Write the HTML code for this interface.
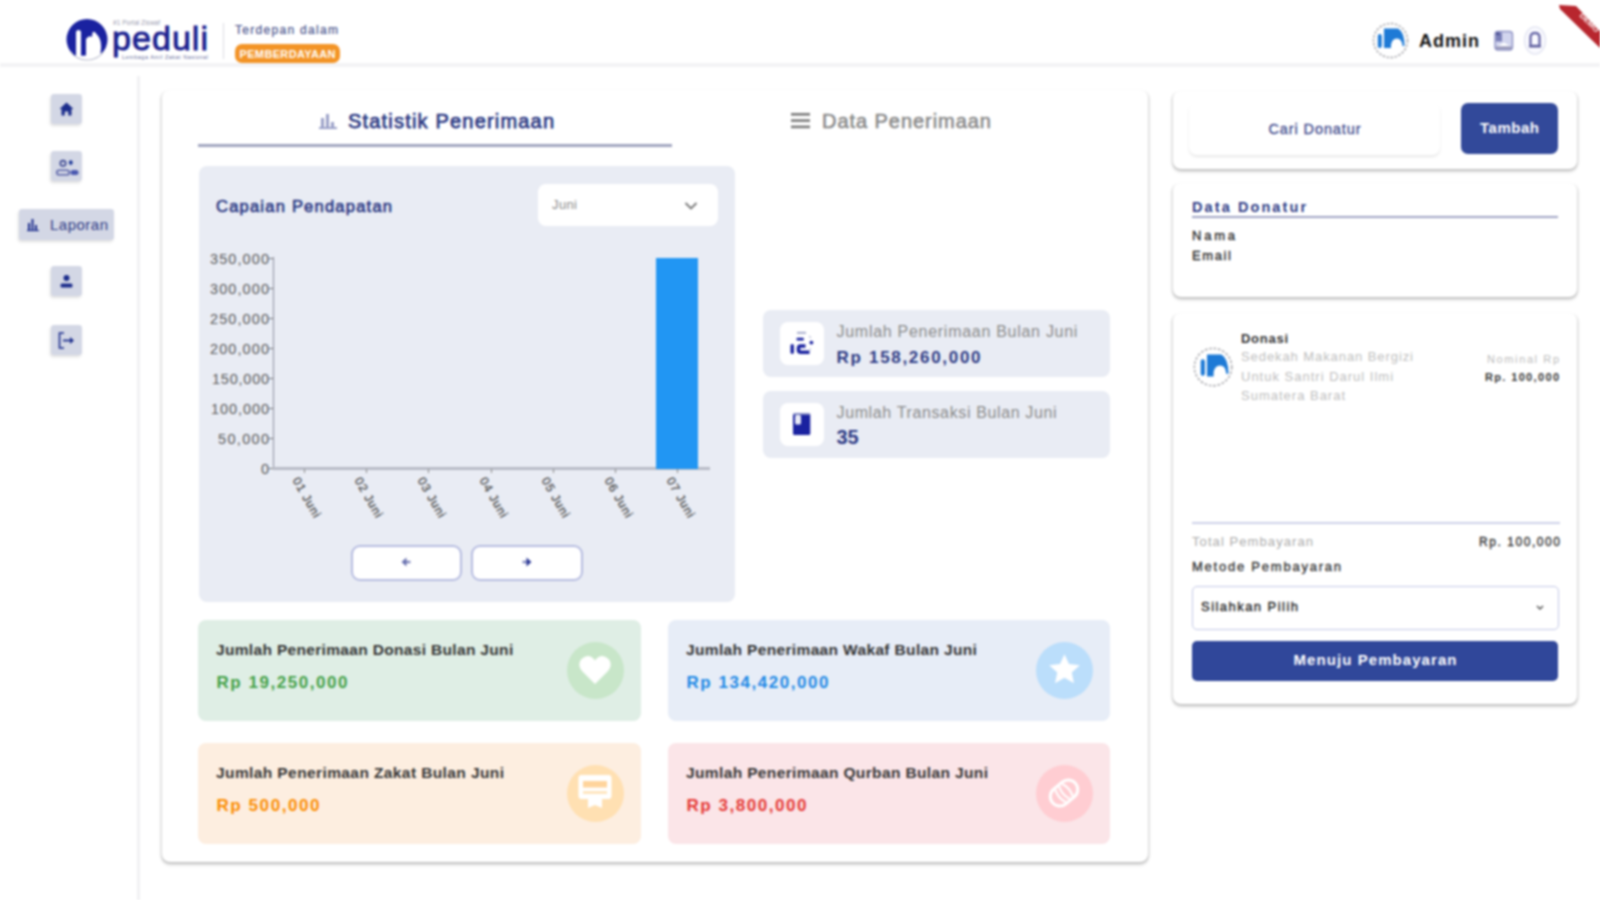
<!DOCTYPE html>
<html><head><meta charset="utf-8">
<style>
*{margin:0;padding:0;box-sizing:border-box}
html,body{width:1600px;height:900px;overflow:hidden;background:#fff;font-family:"Liberation Sans",sans-serif}
.a{position:absolute}
.t{position:absolute;white-space:nowrap;line-height:1.1172}
.sbtn{position:absolute;width:31px;height:30px;background:#d3d7e5;border-radius:3px;box-shadow:-1px 2px 3px rgba(0,0,0,.13)}
.card{position:absolute;background:#fff;border-radius:8px;box-shadow:0 2.5px 3px rgba(0,0,0,.16),-1.5px 1px 2px rgba(0,0,0,.08),1.5px 1px 2px rgba(0,0,0,.08)}
svg{position:absolute;overflow:visible}
</style></head><body>
<div id="pg" style="position:absolute;left:0;top:0;width:1600px;height:900px;background:#fff;filter:blur(1.0px)">
<div class="a" style="left:0;top:0;width:1600px;height:64px;background:#fff"></div>
<div class="a" style="left:0;top:63px;width:1600px;height:4px;background:#f3f3f5"></div>
<div class="a" style="left:137px;top:76px;width:3px;height:824px;background:#f1f1f3"></div>
<svg style="left:62px;top:15px" width="50" height="50" viewBox="0 0 50 50">
<defs><clipPath id="lc"><circle cx="25" cy="24.5" r="20.5"/></clipPath></defs>
<g clip-path="url(#lc)">
<rect x="0" y="0" width="50" height="50" fill="#1a22a0"/>
<path d="M0 39 Q25 44 50 35 L50 50 L0 50 Z" fill="#fff"/>
<rect x="14" y="15" width="5" height="40" rx="2.5" fill="#fff"/>
<path d="M24 50 L24 24 Q27 20 30 22 L30.5 17.5 Q32.5 15.5 34 18.5 Q40 24 39 34 L37 50 Z" fill="#fff"/>
</g>
<path d="M8 36 Q14 45 25 45 Q36 45 42 36" fill="none" stroke="#b9bccc" stroke-width="1.2"/>
</svg>
<div class="t" style="left:113.0px;top:19.1px;font-size:6.5px;color:#9a9ab0;letter-spacing:0.03px;">#1 Portal Ziswaf</div>
<div class="t" style="left:112.0px;top:19.2px;font-size:34px;color:#1b2290;letter-spacing:1.05px;-webkit-text-stroke:0.9px #1b2290;">peduli</div>
<div class="t" style="left:122.0px;top:53.5px;font-size:5.5px;color:#6a70a0;letter-spacing:0.50px;">Lembaga Amil Zakat Nasional</div>
<div class="a" style="left:222.5px;top:23px;width:1.5px;height:36px;background:#dcdce2"></div>
<div class="t" style="left:235.0px;top:24.1px;font-size:12px;color:#46508a;letter-spacing:1.30px;-webkit-text-stroke:0.2px #46508a;">Terdepan dalam</div>
<div class="a" style="left:235px;top:44px;width:105px;height:19px;background:#f39426;border-radius:7px"></div>
<div class="t" style="left:239.5px;top:48.0px;font-size:11px;color:#fff;letter-spacing:0.35px;font-weight:bold;">PEMBERDAYAAN</div>
<svg style="left:1365px;top:15px" width="50" height="50" viewBox="0 0 50 50">
<circle cx="25.5" cy="25.5" r="17" fill="#fff" stroke="#b4b4b8" stroke-width="1.8" stroke-dasharray="2.5 1.5"/>
<rect x="12.8" y="19" width="4" height="14" rx="2" fill="#1e7ad6"/>
<path d="M19 13.5 L33 13.5 Q39.5 17 39.5 31 L37.5 31 Q37 23.5 31.8 23.5 Q27 23.5 26 30 L26 33 L19 33 Z" fill="#1e7ad6"/>
</svg>
<div class="t" style="left:1419.0px;top:30.7px;font-size:18px;color:#111;letter-spacing:1.00px;font-weight:bold;">Admin</div>
<svg style="left:1493px;top:29px" width="22" height="23" viewBox="0 0 22 23">
<rect x="2" y="2.5" width="17.5" height="18.5" rx="3" fill="#d2d5ee" stroke="#8e92c4" stroke-width="1.4"/>
<rect x="3" y="3.5" width="6" height="9" fill="#7a7fb8"/>
<rect x="3" y="3.5" width="3.5" height="2.5" fill="#4a4e90"/>
<path d="M5 17 L11 13.5 L17 17 Z" fill="#fff"/>
<rect x="3" y="17.5" width="15.5" height="2.5" fill="#9a9ab8"/>
</svg>
<svg style="left:1523px;top:25px" width="24" height="31" viewBox="0 0 24 31">
<ellipse cx="12" cy="15.5" rx="10.5" ry="13.5" fill="#fafaff" stroke="#e4e6f2" stroke-width="1.5"/>
<path d="M7.5 21 L7.5 12.5 Q7.5 8 12 8 Q16.5 8 16.5 12.5 L16.5 21 Z" fill="none" stroke="#6a6aa8" stroke-width="2.4"/>
<path d="M6 21.5 L18 21.5" stroke="#5a5a98" stroke-width="1.6"/>
</svg>
<svg style="left:1550px;top:0px" width="50" height="50" viewBox="0 0 50 50">
<path d="M9 5 L26 6 L50 31 L50 48 L10 9 Z" fill="#b8262e"/>
<text x="0" y="0" transform="translate(37.5,24.5) rotate(45)" font-size="8" font-weight="bold" fill="#fff" text-anchor="middle" font-family="Liberation Sans">DEMO</text>
</svg>
<div class="sbtn" style="left:51px;top:94px"></div>
<div class="sbtn" style="left:51px;top:151px"></div>
<div class="sbtn" style="left:51px;top:266px"></div>
<div class="sbtn" style="left:51px;top:325px"></div>
<div class="sbtn" style="left:19px;top:209px;width:95px;height:31px"></div>
<svg style="left:51px;top:94px" width="31" height="31" viewBox="0 0 31 31">
<path d="M15.5 8.5 L22.5 15 L20.5 15 L20.5 21.5 L17.3 21.5 L17.3 17.5 L13.7 17.5 L13.7 21.5 L10.5 21.5 L10.5 15 L8.5 15 Z" fill="#1c2d8c"/>
</svg>
<svg style="left:51px;top:151px" width="31" height="31" viewBox="0 0 31 31">
<circle cx="12" cy="12.3" r="2.7" fill="none" stroke="#3a4590" stroke-width="1.6"/>
<ellipse cx="19.8" cy="11.6" rx="1.9" ry="2.4" fill="#1f3a9a"/>
<rect x="5.8" y="19.2" width="12.5" height="4.6" rx="2.3" fill="none" stroke="#5a62a8" stroke-width="1.6"/>
<rect x="19.5" y="19" width="8" height="5" rx="2.5" fill="#4a58b0"/>
</svg>
<svg style="left:19px;top:209px" width="31" height="31" viewBox="0 0 31 31">
<rect x="9" y="14" width="2" height="7" fill="#1c2d8c"/>
<rect x="12.5" y="10" width="2" height="11" fill="#1c2d8c"/>
<rect x="16" y="16" width="2" height="5" fill="#1c2d8c"/>
<path d="M8 21.5 L20 21.5" stroke="#1c2d8c" stroke-width="1.2"/>
</svg>
<div class="t" style="left:50.0px;top:217.4px;font-size:15px;color:#2d3a84;letter-spacing:0.49px;">Laporan</div>
<svg style="left:51px;top:266px" width="31" height="31" viewBox="0 0 31 31">
<circle cx="15.5" cy="12" r="3" fill="#1c2d8c"/>
<rect x="9.5" y="17.5" width="12" height="4" rx="1.5" fill="#1c2d8c"/>
</svg>
<svg style="left:51px;top:325px" width="31" height="31" viewBox="0 0 31 31">
<path d="M13 8 L8.5 8 L8.5 23 L13 23" fill="none" stroke="#1c2d8c" stroke-width="1.6"/>
<path d="M12 15.5 L20 15.5" stroke="#1c2d8c" stroke-width="1.8"/>
<path d="M19 12 L23 15.5 L19 19 Z" fill="#1c2d8c"/>
</svg>
<div class="card" style="left:162px;top:90px;width:986px;height:772px"></div>
<svg style="left:319px;top:113px" width="18" height="16" viewBox="0 0 18 16">
<rect x="2" y="5" width="3" height="10" fill="#9aa0c8"/>
<rect x="7" y="1" width="3" height="14" fill="#9aa0c8"/>
<rect x="12" y="9" width="3" height="6" fill="#9aa0c8"/>
<rect x="0" y="14" width="18" height="2" fill="#9aa0c8"/>
</svg>
<div class="t" style="left:348.0px;top:109.9px;font-size:20px;color:#2d3a84;letter-spacing:1.19px;-webkit-text-stroke:0.75px #2d3a84;">Statistik Penerimaan</div>
<div class="a" style="left:198px;top:144px;width:474px;height:3px;background:#a2a6c0"></div>
<svg style="left:791px;top:112px" width="20" height="18" viewBox="0 0 20 18">
<rect x="0" y="1" width="19" height="2.6" fill="#7a7a7a"/>
<rect x="0" y="7.3" width="19" height="2.6" fill="#7a7a7a"/>
<rect x="0" y="13.6" width="19" height="2.6" fill="#7a7a7a"/>
</svg>
<div class="t" style="left:822.0px;top:109.9px;font-size:20px;color:#8a8a8a;letter-spacing:0.95px;-webkit-text-stroke:0.6px #8a8a8a;">Data Penerimaan</div>
<div class="a" style="left:199px;top:166px;width:536px;height:436px;background:#e9ecf4;border-radius:8px"></div>
<div class="t" style="left:216.0px;top:197.1px;font-size:16.5px;color:#2d3a84;letter-spacing:1.23px;-webkit-text-stroke:0.65px #2d3a84;">Capaian Pendapatan</div>
<div class="a" style="left:538px;top:184px;width:180px;height:42px;background:#fff;border-radius:8px"></div>
<div class="t" style="left:552.0px;top:198.2px;font-size:13px;color:#8a8a8a;letter-spacing:0.38px;">Juni</div>
<svg style="left:684px;top:200px" width="14" height="11" viewBox="0 0 14 11">
<path d="M1.5 3 L7 8.5 L12.5 3" fill="none" stroke="#777" stroke-width="1.8"/>
</svg>
<div class="a" style="left:272.5px;top:257px;width:1.5px;height:212px;background:#8c90a0"></div>
<div class="a" style="left:273px;top:467px;width:437px;height:2.5px;background:#b8bbc6"></div>
<div class="t" style="left:210.0px;top:250.5px;font-size:14.5px;color:#5a5a5a;letter-spacing:1.10px;">350,000</div>
<div class="a" style="left:268.5px;top:257.8px;width:4px;height:1px;background:#777"></div>
<div class="t" style="left:210.0px;top:280.5px;font-size:14.5px;color:#5a5a5a;letter-spacing:1.10px;">300,000</div>
<div class="a" style="left:268.5px;top:287.8px;width:4px;height:1px;background:#777"></div>
<div class="t" style="left:210.0px;top:310.5px;font-size:14.5px;color:#5a5a5a;letter-spacing:1.10px;">250,000</div>
<div class="a" style="left:268.5px;top:317.9px;width:4px;height:1px;background:#777"></div>
<div class="t" style="left:210.0px;top:340.6px;font-size:14.5px;color:#5a5a5a;letter-spacing:1.10px;">200,000</div>
<div class="a" style="left:268.5px;top:347.9px;width:4px;height:1px;background:#777"></div>
<div class="t" style="left:212.0px;top:370.6px;font-size:14.5px;color:#5a5a5a;letter-spacing:0.77px;">150,000</div>
<div class="a" style="left:268.5px;top:377.9px;width:4px;height:1px;background:#777"></div>
<div class="t" style="left:211.0px;top:400.6px;font-size:14.5px;color:#5a5a5a;letter-spacing:0.93px;">100,000</div>
<div class="a" style="left:268.5px;top:408.0px;width:4px;height:1px;background:#777"></div>
<div class="t" style="left:218.0px;top:430.7px;font-size:14.5px;color:#5a5a5a;letter-spacing:1.33px;">50,000</div>
<div class="a" style="left:268.5px;top:438.0px;width:4px;height:1px;background:#777"></div>
<div class="t" style="left:260.9px;top:460.7px;font-size:14.5px;color:#5a5a5a;letter-spacing:0.00px;">0</div>
<div class="a" style="left:268.5px;top:468.0px;width:4px;height:1px;background:#777"></div>
<div class="a" style="left:656px;top:258px;width:42px;height:211px;background:#2196f3"></div>
<div class="a" style="left:303.6px;top:469px;width:1px;height:4px;background:#888"></div>
<div class="t" style="left:295.1px;top:472px;font-size:12px;color:#484848;letter-spacing:0.9px;-webkit-text-stroke:0.25px #484848;transform-origin:0 50%;transform:rotate(60deg)">01 Juni</div>
<div class="a" style="left:365.9px;top:469px;width:1px;height:4px;background:#888"></div>
<div class="t" style="left:357.4px;top:472px;font-size:12px;color:#484848;letter-spacing:0.9px;-webkit-text-stroke:0.25px #484848;transform-origin:0 50%;transform:rotate(60deg)">02 Juni</div>
<div class="a" style="left:428.2px;top:469px;width:1px;height:4px;background:#888"></div>
<div class="t" style="left:419.7px;top:472px;font-size:12px;color:#484848;letter-spacing:0.9px;-webkit-text-stroke:0.25px #484848;transform-origin:0 50%;transform:rotate(60deg)">03 Juni</div>
<div class="a" style="left:490.5px;top:469px;width:1px;height:4px;background:#888"></div>
<div class="t" style="left:482.0px;top:472px;font-size:12px;color:#484848;letter-spacing:0.9px;-webkit-text-stroke:0.25px #484848;transform-origin:0 50%;transform:rotate(60deg)">04 Juni</div>
<div class="a" style="left:552.8px;top:469px;width:1px;height:4px;background:#888"></div>
<div class="t" style="left:544.3px;top:472px;font-size:12px;color:#484848;letter-spacing:0.9px;-webkit-text-stroke:0.25px #484848;transform-origin:0 50%;transform:rotate(60deg)">05 Juni</div>
<div class="a" style="left:615.1px;top:469px;width:1px;height:4px;background:#888"></div>
<div class="t" style="left:606.6px;top:472px;font-size:12px;color:#484848;letter-spacing:0.9px;-webkit-text-stroke:0.25px #484848;transform-origin:0 50%;transform:rotate(60deg)">06 Juni</div>
<div class="a" style="left:677.4px;top:469px;width:1px;height:4px;background:#888"></div>
<div class="t" style="left:668.9px;top:472px;font-size:12px;color:#484848;letter-spacing:0.9px;-webkit-text-stroke:0.25px #484848;transform-origin:0 50%;transform:rotate(60deg)">07 Juni</div>
<div class="a" style="left:351px;top:545px;width:111px;height:36px;background:#fff;border:2px solid #b6bce0;border-radius:9px"></div>
<div class="a" style="left:471px;top:545px;width:112px;height:36px;background:#fff;border:2px solid #b6bce0;border-radius:9px"></div>
<svg style="left:399px;top:555px" width="14" height="14" viewBox="0 0 14 14"><path d="M11.5 7 L4 7" stroke="#8088bc" stroke-width="2.4"/><path d="M7.5 2.5 L2.5 7 L7.5 11.5 Z" fill="#6a72b0"/></svg>
<svg style="left:520px;top:555px" width="14" height="14" viewBox="0 0 14 14"><path d="M2.5 7 L10 7" stroke="#8088bc" stroke-width="2.4"/><path d="M6.5 2.5 L11.5 7 L6.5 11.5 Z" fill="#2e3a98"/></svg>
<div class="a" style="left:763px;top:310px;width:347px;height:67px;background:#e9ecf4;border-radius:8px"></div>
<div class="a" style="left:780px;top:322px;width:44px;height:43px;background:#fff;border-radius:8px"></div>
<div class="t" style="left:836.5px;top:323.3px;font-size:16px;color:#8a8a8a;letter-spacing:0.72px;">Jumlah Penerimaan Bulan Juni</div>
<div class="t" style="left:836.5px;top:347.6px;font-size:17px;color:#2d3a84;letter-spacing:1.70px;font-weight:bold;">Rp 158,260,000</div>
<div class="a" style="left:763px;top:391px;width:347px;height:67px;background:#e9ecf4;border-radius:8px"></div>
<div class="a" style="left:780px;top:403px;width:44px;height:43px;background:#fff;border-radius:8px"></div>
<div class="t" style="left:836.5px;top:404.3px;font-size:16px;color:#8a8a8a;letter-spacing:0.63px;">Jumlah Transaksi Bulan Juni</div>
<div class="t" style="left:836.5px;top:425.9px;font-size:20px;color:#2d3a84;letter-spacing:-0.24px;font-weight:bold;">35</div>
<svg style="left:780px;top:322px" width="44" height="43" viewBox="0 0 44 43">
<rect x="10.5" y="22" width="3.4" height="10" rx="1.7" fill="#1a22a0"/>
<path d="M25.5 24 L20.5 24 Q18.5 24 18.5 26.5 L18.5 28 Q18.5 30.3 21 30.3 L29.5 30.3" fill="none" stroke="#1a22a0" stroke-width="3.6"/>
<rect x="16.5" y="15.7" width="7.4" height="2.8" rx="1" fill="#1a22a0"/>
<rect x="17" y="9.9" width="9" height="1.8" fill="#a0a6c8"/>
<circle cx="31.4" cy="20.6" r="1.9" fill="#1a22a0"/>
<path d="M29 14 L31 16 M30 26 L30 29" stroke="#c0c4dc" stroke-width="1.2"/>
</svg>
<svg style="left:780px;top:403px" width="44" height="43" viewBox="0 0 44 43">
<rect x="13" y="10.5" width="17.3" height="21.5" rx="1.5" fill="#1a22a0"/>
<rect x="15" y="12" width="6" height="9.5" rx="1.5" fill="#e8eaf6"/>
<rect x="13" y="10.5" width="17.3" height="1.5" fill="#8088c0"/>
</svg>
<div class="a" style="left:198px;top:620px;width:443px;height:101px;background:#dfeee5;border-radius:8px"></div>
<div class="t" style="left:216.0px;top:641.0px;font-size:15.5px;color:#333;letter-spacing:0.33px;font-weight:bold;">Jumlah Penerimaan Donasi Bulan Juni</div>
<div class="t" style="left:216.5px;top:672.6px;font-size:17px;color:#43a047;letter-spacing:1.55px;font-weight:bold;">Rp 19,250,000</div>
<div class="a" style="left:566.5px;top:641.5px;width:57px;height:57px;background:#c8e6c9;border-radius:50%"></div>
<svg style="left:578px;top:654px" width="34" height="32" viewBox="0 0 34 32"><path d="M17 30 L4 17 Q-1 11 3 5.5 Q8 0 13.5 3 Q16 4.5 17 6.5 Q18 4.5 20.5 3 Q26 0 31 5.5 Q35 11 30 17 Z" fill="#fff"/></svg>
<div class="a" style="left:668px;top:620px;width:442px;height:101px;background:#e7edf7;border-radius:8px"></div>
<div class="t" style="left:686.0px;top:641.0px;font-size:15.5px;color:#333;letter-spacing:0.35px;font-weight:bold;">Jumlah Penerimaan Wakaf Bulan Juni</div>
<div class="t" style="left:686.5px;top:672.6px;font-size:17px;color:#1e88e5;letter-spacing:1.55px;font-weight:bold;">Rp 134,420,000</div>
<div class="a" style="left:1035.5px;top:641.5px;width:57px;height:57px;background:#bbdefb;border-radius:50%"></div>
<svg style="left:1046.5px;top:652px" width="35" height="35" viewBox="0 0 32 32"><path d="M16 2 L20.1 11 L30 12.1 L22.6 18.8 L24.7 28.6 L16 23.6 L7.3 28.6 L9.4 18.8 L2 12.1 L11.9 11 Z" fill="#fff"/></svg>
<div class="a" style="left:198px;top:743px;width:443px;height:101px;background:#fdeee0;border-radius:8px"></div>
<div class="t" style="left:216.0px;top:764.0px;font-size:15.5px;color:#333;letter-spacing:0.40px;font-weight:bold;">Jumlah Penerimaan Zakat Bulan Juni</div>
<div class="t" style="left:216.5px;top:795.6px;font-size:17px;color:#fb8c00;letter-spacing:1.57px;font-weight:bold;">Rp 500,000</div>
<div class="a" style="left:566.5px;top:764.5px;width:57px;height:57px;background:#ffe0b2;border-radius:50%"></div>
<svg style="left:578px;top:775px" width="34" height="34" viewBox="0 0 34 34"><rect x="0.5" y="0" width="33" height="24" rx="3" fill="#fff"/><rect x="5" y="6" width="24" height="6.5" fill="#ffd49c"/><rect x="5" y="16" width="24" height="3" fill="#ffe6c0"/><path d="M10 23 L10 33 L17 30 L24 33 L24 23 Z" fill="#fff"/></svg>
<div class="a" style="left:668px;top:743px;width:442px;height:101px;background:#fbe5e8;border-radius:8px"></div>
<div class="t" style="left:686.0px;top:764.0px;font-size:15.5px;color:#333;letter-spacing:0.37px;font-weight:bold;">Jumlah Penerimaan Qurban Bulan Juni</div>
<div class="t" style="left:686.5px;top:795.6px;font-size:17px;color:#e53935;letter-spacing:1.55px;font-weight:bold;">Rp 3,800,000</div>
<div class="a" style="left:1035.5px;top:764.5px;width:57px;height:57px;background:#ffcdd2;border-radius:50%"></div>
<svg style="left:1045px;top:774px" width="38" height="38" viewBox="0 0 38 38"><g transform="rotate(-40 19 19)"><rect x="4" y="9.5" width="30" height="19" rx="9.5" fill="none" stroke="#fff" stroke-width="3"/><path d="M14.5 11 Q11 19 14.5 27 M19.5 11 Q16 19 19.5 27 M23.5 11 Q27 19 23.5 27" fill="none" stroke="#fff" stroke-width="2.2"/></g></svg>
<div class="card" style="left:1173px;top:91px;width:404px;height:78px"></div>
<div class="a" style="left:1189px;top:103px;width:251px;height:52px;background:#fff;border-radius:8px;box-shadow:0 2px 3px rgba(0,0,0,.09)"></div>
<div class="t" style="left:1268.5px;top:121.4px;font-size:14.5px;color:#3e4a8c;letter-spacing:0.89px;-webkit-text-stroke:0.3px #3e4a8c;">Cari Donatur</div>
<div class="a" style="left:1461px;top:103px;width:97px;height:51px;background:#32499a;border-radius:7px"></div>
<div class="t" style="left:1480.0px;top:120.4px;font-size:15px;color:#fff;letter-spacing:0.52px;font-weight:bold;">Tambah</div>
<div class="card" style="left:1173px;top:183px;width:404px;height:114px"></div>
<div class="t" style="left:1192.0px;top:199.4px;font-size:14.5px;color:#2d3a84;letter-spacing:2.09px;font-weight:bold;">Data Donatur</div>
<div class="a" style="left:1192px;top:216px;width:366px;height:2px;background:#a0a5c4"></div>
<div class="t" style="left:1192.0px;top:229.2px;font-size:13px;color:#222;letter-spacing:2.77px;-webkit-text-stroke:0.3px #222;">Nama</div>
<div class="t" style="left:1192.0px;top:248.7px;font-size:13px;color:#222;letter-spacing:1.62px;-webkit-text-stroke:0.3px #222;">Email</div>
<div class="card" style="left:1173px;top:313px;width:404px;height:391px"></div>
<svg style="left:1185px;top:339px" width="55" height="55" viewBox="0 0 50 50">
<circle cx="25.5" cy="25.5" r="17" fill="#fff" stroke="#b4b4b8" stroke-width="1.6" stroke-dasharray="2.5 1.5"/>
<rect x="14.3" y="18.5" width="3.8" height="15" rx="1.9" fill="#1e7ad6"/>
<path d="M20 14 L33 14 Q39.5 17.5 39.5 31.5 L37.5 31.5 Q37 24 31.8 24 Q27 24 26 30.5 L26 34 L20 34 Z" fill="#1e7ad6"/>
</svg>
<div class="t" style="left:1241.0px;top:331.6px;font-size:13px;color:#333;letter-spacing:0.73px;font-weight:bold;">Donasi</div>
<div class="t" style="left:1241.0px;top:350.2px;font-size:13px;color:#bdbdbd;letter-spacing:0.92px;">Sedekah Makanan Bergizi</div>
<div class="t" style="left:1241.0px;top:369.9px;font-size:13px;color:#bdbdbd;letter-spacing:1.00px;">Untuk Santri Darul Ilmi</div>
<div class="t" style="left:1241.0px;top:389.2px;font-size:13px;color:#bdbdbd;letter-spacing:1.00px;">Sumatera Barat</div>
<div class="t" style="left:1487.0px;top:352.5px;font-size:11px;color:#bbb;letter-spacing:1.62px;">Nominal Rp</div>
<div class="t" style="left:1485.0px;top:371.0px;font-size:11px;color:#333;letter-spacing:1.35px;font-weight:bold;">Rp. 100,000</div>
<div class="a" style="left:1192px;top:522px;width:368px;height:2px;background:#cdd1e8"></div>
<div class="t" style="left:1192.0px;top:535.2px;font-size:13px;color:#aaa;letter-spacing:1.08px;">Total Pembayaran</div>
<div class="t" style="left:1479.0px;top:536.1px;font-size:12px;color:#333;letter-spacing:1.56px;-webkit-text-stroke:0.35px #333;">Rp. 100,000</div>
<div class="t" style="left:1192.0px;top:560.2px;font-size:13px;color:#333;letter-spacing:1.77px;-webkit-text-stroke:0.35px #333;">Metode Pembayaran</div>
<div class="a" style="left:1192px;top:586px;width:367px;height:44px;background:#fff;border:1.8px solid #c3c8e6;border-radius:5px"></div>
<div class="t" style="left:1201.0px;top:600.2px;font-size:13px;color:#222;letter-spacing:1.46px;-webkit-text-stroke:0.35px #222;">Silahkan Pilih</div>
<svg style="left:1536px;top:605px" width="8" height="6" viewBox="0 0 8 6"><path d="M1 1 L4 4 L7 1" fill="none" stroke="#555" stroke-width="1.5"/></svg>
<div class="a" style="left:1192px;top:641px;width:366px;height:40px;background:#30479a;border-radius:5px"></div>
<div class="t" style="left:1293.5px;top:652.4px;font-size:15px;color:#fff;letter-spacing:1.07px;font-weight:bold;">Menuju Pembayaran</div>
</div>
</body></html>
